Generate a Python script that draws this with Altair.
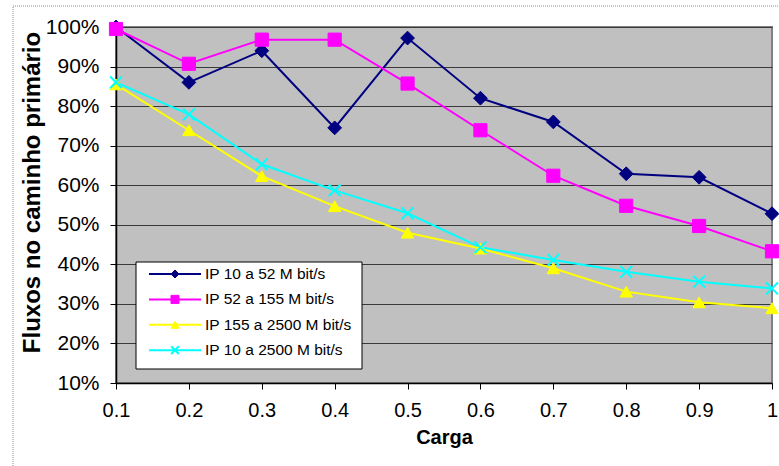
import altair as alt
import pandas as pd

# ---- data ----
carga = [0.1, 0.2, 0.3, 0.4, 0.5, 0.6, 0.7, 0.8, 0.9, 1.0]
series_names = [
    "IP 10 a 52 M bit/s",
    "IP 52 a 155 M bit/s",
    "IP 155 a 2500 M bit/s",
    "IP 10 a 2500 M bit/s",
]
s_10_52 = [100.0, 86.0, 94.0, 74.5, 97.2, 82.0, 76.0, 62.9, 62.0, 52.8]
s_52_155 = [99.5, 90.7, 96.8, 96.8, 85.7, 73.9, 62.4, 54.8, 49.7, 43.3]
s_155_2500 = [85.5, 73.9, 62.3, 54.7, 48.0, 44.0, 39.0, 33.1, 30.4, 28.9]
s_10_2500 = [86.0, 77.9, 65.3, 58.7, 52.9, 44.3, 41.1, 38.1, 35.6, 33.9]
y_ticks = [10, 20, 30, 40, 50, 60, 70, 80, 90, 100]

colors = ["#000080", "#FF00FF", "#FFFF00", "#00FFFF"]
shapes = ["diamond", "square", "triangle-up", "M-1,-1L1,1M1,-1L-1,1"]

rows = []
for i, (name, vals) in enumerate(zip(series_names, [s_10_52, s_52_155, s_155_2500, s_10_2500])):
    for c, v in zip(carga, vals):
        rows.append({"carga": c, "valor": v, "serie": name, "ordem": i})
df = pd.DataFrame(rows)

W, H = 656, 356
FONT = "Liberation Sans"

color_scale = alt.Scale(domain=series_names, range=colors)
shape_scale = alt.Scale(domain=series_names, range=shapes)
size_scale = alt.Scale(domain=series_names, range=[190, 140, 210, 130])

x_axis = alt.Axis(
    values=carga, format="~g", title="Carga", grid=False,
    labelFontSize=20, tickSize=6, labelPadding=11,
    labelFlush=False, labelOverlap=False,
    titleFontSize=20, titleY=54, titleBaseline="middle",
)
y_axis = alt.Axis(
    values=y_ticks, labelExpr="datum.value + '%'",
    title="Fluxos no caminho primário",
    labelFontSize=21, tickSize=6, labelPadding=11,
    labelFlush=False, labelOverlap=False,
    grid=True, gridColor="#3a3a3a", gridWidth=1,
    titleFontSize=24, titleAngle=-90, titleX=-84, titleY=165,
    titleAlign="center", titleBaseline="middle",
)
x_enc = alt.X("carga:Q", scale=alt.Scale(domain=[0.1, 1.0], nice=False, zero=False), axis=x_axis)
y_enc = alt.Y("valor:Q", scale=alt.Scale(domain=[10, 100], nice=False, zero=False), axis=y_axis)

base = alt.Chart(df)

lines = base.mark_line(strokeWidth=2).encode(
    x=x_enc, y=y_enc,
    color=alt.Color("serie:N", scale=color_scale, legend=None),
    detail="ordem:N",
    order="carga:Q",
)

filled_pts = base.transform_filter(alt.datum.ordem < 3).mark_point(
    filled=True, opacity=1, strokeWidth=1
).encode(
    x=x_enc, y=y_enc,
    fill=alt.Fill("serie:N", scale=color_scale, legend=None),
    stroke=alt.Stroke("serie:N", scale=color_scale, legend=None),
    shape=alt.Shape("serie:N", scale=shape_scale, legend=None),
    size=alt.Size("serie:N", scale=size_scale, legend=None),
)

x_pts = base.transform_filter(alt.datum.ordem == 3).mark_point(
    filled=False, opacity=1, strokeWidth=2
).encode(
    x=x_enc, y=y_enc,
    stroke=alt.Stroke("serie:N", scale=color_scale, legend=None),
    shape=alt.Shape("serie:N", scale=shape_scale, legend=None),
    size=alt.Size("serie:N", scale=size_scale, legend=None),
)

data_layer = alt.layer(lines, filled_pts, x_pts)

# ---- legend (drawn manually to show line + marker) ----
leg = pd.DataFrame({
    "serie": series_names,
    "ordem": list(range(len(series_names))),
})
leg["ly"] = 247 + leg["ordem"] * 25.4
lbase = alt.Chart(leg)

leg_box = alt.Chart(pd.DataFrame({"a": [0]})).mark_rect(
    fill="white", stroke="black", strokeWidth=1
).encode(x=alt.value(20), x2=alt.value(246), y=alt.value(235), y2=alt.value(342))

leg_lines = lbase.mark_rule(strokeWidth=2).encode(
    x=alt.value(33), x2=alt.value(85),
    y=alt.Y("ly:Q", scale=None, axis=None),
    color=alt.Color("serie:N", scale=color_scale, legend=None),
)
leg_filled = lbase.transform_filter(alt.datum.ordem < 3).mark_point(
    filled=True, opacity=1, strokeWidth=1, size=65
).encode(
    x=alt.value(59),
    y=alt.Y("ly:Q", scale=None, axis=None),
    fill=alt.Fill("serie:N", scale=color_scale, legend=None),
    stroke=alt.Stroke("serie:N", scale=color_scale, legend=None),
    shape=alt.Shape("serie:N", scale=shape_scale, legend=None),
)
leg_x = lbase.transform_filter(alt.datum.ordem == 3).mark_point(
    filled=False, opacity=1, strokeWidth=2, size=60
).encode(
    x=alt.value(59),
    y=alt.Y("ly:Q", scale=None, axis=None),
    stroke=alt.Stroke("serie:N", scale=color_scale, legend=None),
    shape=alt.Shape("serie:N", scale=shape_scale, legend=None),
)
leg_text = lbase.mark_text(
    align="left", baseline="middle", font=FONT, fontSize=15.5, color="black"
).encode(
    x=alt.value(89),
    y=alt.Y("ly:Q", scale=None, axis=None),
    text="serie:N",
)

legend_layer = alt.layer(leg_box, leg_lines, leg_filled, leg_x, leg_text)

outer = alt.Chart(pd.DataFrame({"a": [0]})).mark_rect(
    fill=None, stroke="#8c8c8c", strokeWidth=1, strokeDash=[1, 1], clip=False
).encode(x=alt.value(-103), x2=alt.value(720), y=alt.value(-21), y2=alt.value(500))

chart = alt.layer(
    data_layer, legend_layer, outer,
).resolve_scale(y="independent").properties(
    width=W, height=H,
    autosize=alt.AutoSizeParams(type="none"),
    padding={"left": 116, "top": 27, "right": 7, "bottom": 83},
    background="white",
).configure_view(
    fill="#C0C0C0", stroke="#808080", strokeWidth=2,
).configure_axis(
    labelFont=FONT, titleFont=FONT, labelColor="black", titleColor="black",
    titleFontWeight="bold", domainColor="black", domainWidth=1.5,
    tickColor="black", tickWidth=1,
)

chart.save("out.html", embed_options={"renderer": "svg", "actions": False})
